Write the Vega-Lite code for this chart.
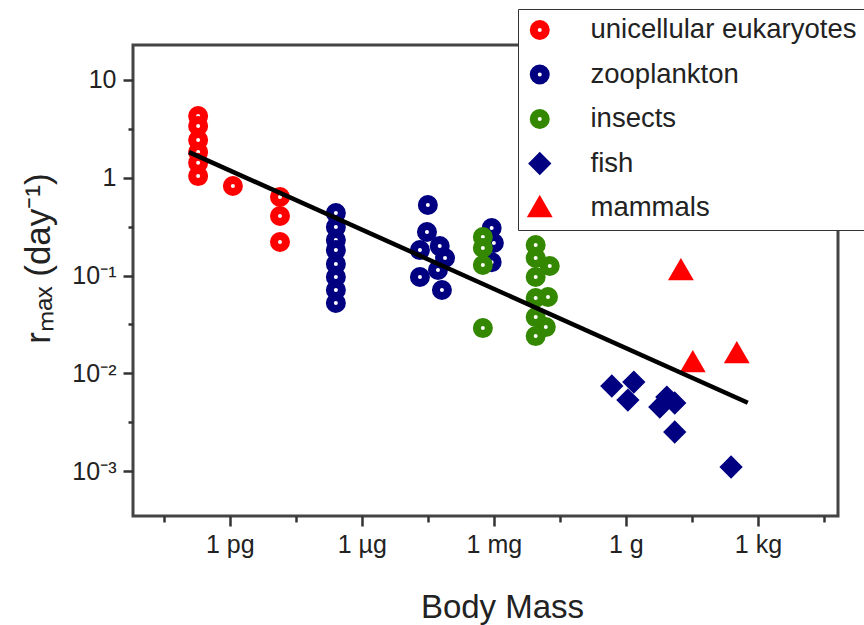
{
  "$schema": "https://vega.github.io/schema/vega-lite/v6.json",
  "width": 705,
  "height": 471,
  "autosize": {"type": "none"},
  "padding": {"left": 133, "top": 45, "right": 26, "bottom": 109},
  "background": "white",
  "config": {
    "view": {"stroke": "#444444", "strokeWidth": 3},
    "font": "Liberation Sans",
    "axis": {
      "domain": false,
      "grid": false,
      "tickColor": "#333333",
      "tickWidth": 2.5,
      "labelFont": "Liberation Sans",
      "labelFontSize": 25,
      "labelColor": "#222222",
      "titleFont": "Liberation Sans",
      "titleFontWeight": "normal",
      "titleColor": "#222222"
    },
    "legend": {
      "orient": "none",
      "legendX": 385,
      "legendY": -36,
      "labelFont": "Liberation Sans",
      "labelFontSize": 27.5,
      "labelColor": "#222222",
      "labelLimit": 400,
      "padding": 8,
      "rowPadding": 16.5,
      "clipHeight": 26,
      "labelOffset": 37,
      "strokeColor": "#333333",
      "fillColor": "white",
      "symbolOpacity": 1
    }
  },
  "layer": [
    {
      "data": {
        "values": [
          {"group": "unicellular eukaryotes", "mass": -9.72, "rmax": 4.28},
          {"group": "unicellular eukaryotes", "mass": -9.72, "rmax": 3.38},
          {"group": "unicellular eukaryotes", "mass": -9.72, "rmax": 2.43},
          {"group": "unicellular eukaryotes", "mass": -9.72, "rmax": 1.83},
          {"group": "unicellular eukaryotes", "mass": -9.72, "rmax": 1.42},
          {"group": "unicellular eukaryotes", "mass": -9.72, "rmax": 1.04},
          {"group": "unicellular eukaryotes", "mass": -8.93, "rmax": 0.824},
          {"group": "unicellular eukaryotes", "mass": -7.86, "rmax": 0.635},
          {"group": "unicellular eukaryotes", "mass": -7.86, "rmax": 0.406},
          {"group": "unicellular eukaryotes", "mass": -7.86, "rmax": 0.22},
          {"group": "zooplankton", "mass": -6.59, "rmax": 0.435},
          {"group": "zooplankton", "mass": -6.59, "rmax": 0.313},
          {"group": "zooplankton", "mass": -6.59, "rmax": 0.231},
          {"group": "zooplankton", "mass": -6.59, "rmax": 0.182},
          {"group": "zooplankton", "mass": -6.59, "rmax": 0.131},
          {"group": "zooplankton", "mass": -6.59, "rmax": 0.0966},
          {"group": "zooplankton", "mass": -6.59, "rmax": 0.0711},
          {"group": "zooplankton", "mass": -6.59, "rmax": 0.0524},
          {"group": "zooplankton", "mass": -4.5, "rmax": 0.526},
          {"group": "zooplankton", "mass": -4.52, "rmax": 0.279},
          {"group": "zooplankton", "mass": -4.68, "rmax": 0.182},
          {"group": "zooplankton", "mass": -4.23, "rmax": 0.2},
          {"group": "zooplankton", "mass": -4.11, "rmax": 0.151},
          {"group": "zooplankton", "mass": -4.68, "rmax": 0.0966},
          {"group": "zooplankton", "mass": -4.27, "rmax": 0.114},
          {"group": "zooplankton", "mass": -4.18, "rmax": 0.0711},
          {"group": "zooplankton", "mass": -3.05, "rmax": 0.306},
          {"group": "zooplankton", "mass": -3.0, "rmax": 0.215},
          {"group": "zooplankton", "mass": -3.05, "rmax": 0.137},
          {"group": "insects", "mass": -3.25, "rmax": 0.248},
          {"group": "insects", "mass": -3.25, "rmax": 0.191},
          {"group": "insects", "mass": -3.25, "rmax": 0.128},
          {"group": "insects", "mass": -3.25, "rmax": 0.029},
          {"group": "insects", "mass": -2.05, "rmax": 0.205},
          {"group": "insects", "mass": -2.05, "rmax": 0.151},
          {"group": "insects", "mass": -1.73, "rmax": 0.125},
          {"group": "insects", "mass": -2.05, "rmax": 0.0966},
          {"group": "insects", "mass": -1.77, "rmax": 0.0603},
          {"group": "insects", "mass": -2.05, "rmax": 0.0589},
          {"group": "insects", "mass": -2.05, "rmax": 0.0376},
          {"group": "insects", "mass": -1.82, "rmax": 0.0297},
          {"group": "insects", "mass": -2.05, "rmax": 0.024},
          {"group": "fish", "mass": -0.32, "rmax": 0.00741},
          {"group": "fish", "mass": 0.18, "rmax": 0.00813},
          {"group": "fish", "mass": 0.045, "rmax": 0.00532},
          {"group": "fish", "mass": 0.77, "rmax": 0.00452},
          {"group": "fish", "mass": 0.93, "rmax": 0.00571},
          {"group": "fish", "mass": 1.11, "rmax": 0.00497},
          {"group": "fish", "mass": 1.11, "rmax": 0.00251},
          {"group": "fish", "mass": 2.39, "rmax": 0.0011},
          {"group": "mammals", "mass": 1.25, "rmax": 0.111},
          {"group": "mammals", "mass": 1.52, "rmax": 0.0127},
          {"group": "mammals", "mass": 2.52, "rmax": 0.0157}
        ]
      },
      "mark": {"type": "point", "opacity": 1},
      "encoding": {
        "x": {
          "field": "mass",
          "type": "quantitative",
          "scale": {"domain": [-11.2, 4.82], "nice": false, "zero": false},
          "axis": {
            "orient": "bottom",
            "values": [-9, -6, -3, 0, 3],
            "labelExpr": "datum.value == -9 ? '1 pg' : datum.value == -6 ? '1 µg' : datum.value == -3 ? '1 mg' : datum.value == 0 ? '1 g' : '1 kg'",
            "tickSize": 10,
            "labelPadding": 6,
            "title": "Body Mass",
            "titleFontSize": 33,
            "titlePadding": 34,
            "titleX": 369
          }
        },
        "y": {
          "field": "rmax",
          "type": "quantitative",
          "scale": {"type": "log", "domain": [0.000347, 22.8], "nice": false},
          "axis": {
            "orient": "left",
            "values": [10, 1, 0.1, 0.01, 0.001],
            "labelExpr": "datum.value >= 5 ? '10' : datum.value >= 0.5 ? '1' : datum.value >= 0.05 ? '10⁻¹' : datum.value >= 0.005 ? '10⁻²' : '10⁻³'",
            "tickSize": 10,
            "labelPadding": 7,
            "title": "rₘₐₓ (day⁻¹)",
            "titleFontSize": 35,
            "titlePadding": 15,
            "titleY": 213
          }
        },
        "shape": {
          "field": "group",
          "type": "nominal",
          "scale": {"domain": ["unicellular eukaryotes", "zooplankton", "insects", "fish", "mammals"], "range": ["circle", "circle", "circle", "diamond", "triangle-up"]},
          "legend": {"title": null}
        },
        "stroke": {
          "field": "group",
          "type": "nominal",
          "scale": {"domain": ["unicellular eukaryotes", "zooplankton", "insects", "fish", "mammals"], "range": ["#ff0000", "#000080", "#338800", "#000080", "#ff0000"]},
          "legend": {"title": null}
        },
        "fill": {
          "field": "group",
          "type": "nominal",
          "scale": {"domain": ["unicellular eukaryotes", "zooplankton", "insects", "fish", "mammals"], "range": ["#ffffff", "#ffffff", "#ffffff", "#000080", "#ff0000"]},
          "legend": {"title": null}
        },
        "size": {
          "field": "group",
          "type": "nominal",
          "scale": {"domain": ["unicellular eukaryotes", "zooplankton", "insects", "fish", "mammals"], "range": [144, 144, 144, 420, 230]},
          "legend": {"title": null}
        },
        "strokeWidth": {
          "field": "group",
          "type": "nominal",
          "scale": {"domain": ["unicellular eukaryotes", "zooplankton", "insects", "fish", "mammals"], "range": [8, 8, 8, 1, 1]},
          "legend": {"title": null}
        }
      }
    },
    {
      "data": {
        "values": [
          {"mass": -9.93, "rmax": 1.83},
          {"mass": 2.77, "rmax": 0.005}
        ]
      },
      "mark": {"type": "line", "color": "black", "strokeWidth": 4.5},
      "encoding": {
        "x": {
          "field": "mass",
          "type": "quantitative",
          "scale": {"domain": [-11.2, 4.82], "nice": false, "zero": false},
          "axis": {
            "orient": "bottom",
            "values": [-10.5, -7.5, -4.5, -1.5, 1.5, 4.5],
            "tickSize": 6,
            "labels": false,
            "title": null
          }
        },
        "y": {
          "field": "rmax",
          "type": "quantitative",
          "scale": {"type": "log", "domain": [0.000347, 22.8], "nice": false},
          "axis": {
            "orient": "left",
            "values": [3.1623, 0.31623, 0.031623, 0.0031623],
            "tickSize": 5,
            "labels": false,
            "title": null
          }
        }
      }
    }
  ],
  "resolve": {"axis": {"x": "independent", "y": "independent"}}
}
